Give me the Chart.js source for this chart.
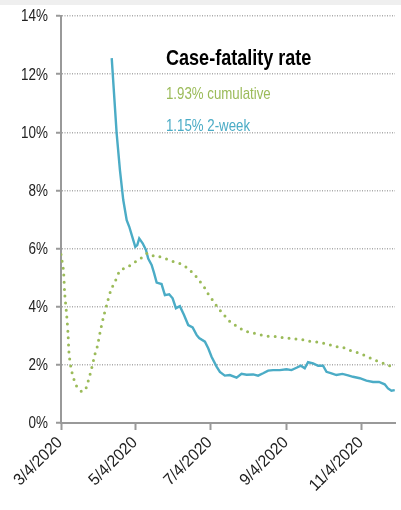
<!DOCTYPE html>
<html lang="en">
<head>
    <meta charset="UTF-8">
    <title>Case-fatality rate</title>
    <script src="https://cdn.jsdelivr.net/npm/chart.js"></script>
    <style>
        body { margin: 0; background: #fff; }
        #bar { height: 5px; background: #efefef; }
    </style>
</head>
<body>
    <div id="bar"></div>
    <canvas id="chart_cfr" width="401" height="505"></canvas>

    <script>
        // days since 3/4/2020 -> x, rate in percent -> y
        const tickDays = [0, 61, 122, 184, 245];
        const tickLabels = ['3/4/2020', '5/4/2020', '7/4/2020', '9/4/2020', '11/4/2020'];

        const cumDays = [0, 2, 3, 4.6, 5.7, 6.5, 8, 9.5, 13, 17, 20, 22, 25, 27.7, 29.5, 31.7, 34.4, 37.2, 40.7, 44, 48, 52, 57, 62.7, 67, 70.5, 75.7, 80, 84.6, 89.5, 94.6, 99.5, 103.6, 107.6, 111.7, 117, 120.7, 124, 127.2, 130.8, 134.3, 138, 142.4, 146.7, 151.6, 156.5, 161, 166, 171, 176, 181, 186, 191, 196, 200.4, 205.3, 210.2, 215.4, 220.3, 225, 230, 234.6, 239.5, 244.3, 248.7, 253.3, 258.2, 262.8, 267.7, 271];
        const cumRate = [5.8, 5.24, 4.47, 3.72, 3.09, 2.42, 1.93, 1.65, 1.24, 1.08, 1.17, 1.42, 1.89, 2.37, 2.62, 3.09, 3.61, 4.06, 4.58, 4.86, 5.24, 5.33, 5.44, 5.61, 5.72, 5.84, 5.74, 5.72, 5.66, 5.58, 5.51, 5.44, 5.3, 5.15, 4.95, 4.65, 4.38, 4.2, 4.0, 3.81, 3.64, 3.47, 3.35, 3.24, 3.14, 3.1, 3.05, 3.0, 2.98, 2.97, 2.93, 2.91, 2.89, 2.87, 2.82, 2.8, 2.78, 2.73, 2.67, 2.62, 2.59, 2.51, 2.45, 2.38, 2.3, 2.21, 2.12, 2.05, 1.97, 1.93];

        const twoWeekDays = [41.3, 45.3, 48, 50.7, 53.5, 55.6, 58, 60.5, 62.1, 63.7, 66.5, 69.2, 71, 73.8, 75.7, 77.9, 81.9, 84.6, 88.1, 90.9, 93.6, 96.8, 100.1, 103.6, 107.2, 110.4, 112.5, 117.2, 119.9, 122.6, 126.7, 129.4, 133.4, 137.5, 143, 147, 151.1, 156.5, 160.5, 164.6, 168.7, 172.7, 178.2, 183.6, 187.7, 191.8, 195.3, 198.5, 201.2, 205.3, 209.4, 213.4, 216.2, 220.3, 224.3, 229.2, 233.8, 237.8, 243.3, 248.7, 254.1, 259, 263.6, 266.3, 269.1, 271.8];
        const twoWeekRate = [12.55, 9.97, 8.7, 7.67, 6.98, 6.75, 6.41, 6.06, 6.12, 6.35, 6.18, 5.95, 5.66, 5.44, 5.17, 4.83, 4.78, 4.4, 4.43, 4.29, 3.95, 4.02, 3.72, 3.37, 3.29, 3.03, 2.92, 2.8, 2.57, 2.28, 1.94, 1.76, 1.63, 1.65, 1.56, 1.69, 1.66, 1.67, 1.63, 1.71, 1.8, 1.82, 1.82, 1.85, 1.82, 1.9, 1.97, 1.88, 2.09, 2.05, 1.97, 1.97, 1.76, 1.71, 1.65, 1.69, 1.64, 1.59, 1.54, 1.46, 1.41, 1.41, 1.33, 1.19, 1.11, 1.13];

        const green = '#9bbb59';
        const blue = '#4bacc6';
        const font = '"Liberation Sans", Arial, sans-serif';

        const toPoints = (xs, ys) => xs.map((x, i) => ({ x: x, y: ys[i] }));

        // squeezed text, to look like the condensed face of the original
        function narrowText(ctx, text, x, y, squeeze, angle) {
            ctx.save();
            ctx.translate(x, y);
            if (angle) ctx.rotate(angle);
            ctx.scale(squeeze, 1);
            ctx.fillText(text, 0, 0);
            ctx.restore();
        }

        const labelPlugin = {
            id: 'labels',
            afterDraw(chart) {
                const ctx = chart.ctx;
                const xs = chart.scales.x, ys = chart.scales.y;
                ctx.save();
                ctx.fillStyle = '#222';

                // y tick labels
                ctx.font = '16px ' + font;
                ctx.textAlign = 'right';
                ctx.textBaseline = 'middle';
                ys.ticks.forEach(t => {
                    narrowText(ctx, t.value + '%', ys.right - 13, ys.getPixelForValue(t.value) + 1, 0.84);
                });

                // x tick labels, rotated 45 degrees
                ctx.font = '16.5px ' + font;
                xs.ticks.forEach(t => {
                    const label = tickLabels[tickDays.indexOf(t.value)];
                    narrowText(ctx, label, xs.getPixelForValue(t.value) - 1, xs.top + 17, 0.95, -Math.PI / 4);
                });

                // title and series labels
                ctx.textAlign = 'left';
                ctx.textBaseline = 'alphabetic';
                ctx.fillStyle = '#000';
                ctx.font = 'bold 22px ' + font;
                narrowText(ctx, 'Case-fatality rate', 166, 60, 0.82);
                ctx.font = '17px ' + font;
                ctx.fillStyle = green;
                narrowText(ctx, '1.93% cumulative', 166, 94, 0.78);
                ctx.fillStyle = blue;
                narrowText(ctx, '1.15% 2-week', 166, 126, 0.78);
                ctx.restore();
            }
        };

        new Chart(document.getElementById('chart_cfr').getContext('2d'), {
            type: 'line',
            data: {
                datasets: [
                    {
                        label: 'cumulative',
                        data: toPoints(cumDays, cumRate),
                        borderColor: green,
                        borderWidth: 3,
                        borderDash: [0, 7],
                        borderCapStyle: 'round',
                        pointRadius: 0,
                        tension: 0.3,
                        fill: false
                    },
                    {
                        label: '2-week',
                        data: toPoints(twoWeekDays, twoWeekRate),
                        borderColor: blue,
                        borderWidth: 2.4,
                        pointRadius: 0,
                        tension: 0,
                        fill: false
                    }
                ]
            },
            options: {
                responsive: false,
                animation: false,
                devicePixelRatio: 1,
                layout: { padding: { top: 11, right: 6, left: 0, bottom: 0 } },
                plugins: { legend: { display: false }, tooltip: { enabled: false } },
                scales: {
                    x: {
                        type: 'linear',
                        min: 0,
                        max: 272,
                        afterBuildTicks: s => { s.ticks = tickDays.map(v => ({ value: v })); },
                        afterFit: s => { s.height = 87; },
                        ticks: { display: false },
                        grid: { drawOnChartArea: false, tickLength: 7, tickColor: '#999', tickWidth: 2 },
                        border: { color: '#999', width: 2 }
                    },
                    y: {
                        min: 0,
                        max: 14,
                        afterFit: s => { s.width = 61; },
                        ticks: { display: false, stepSize: 2 },
                        grid: { color: '#aaa', lineWidth: 1.5, tickLength: 5, tickColor: '#999', tickWidth: 2, tickBorderDash: [] },
                        border: { color: '#999', width: 2, dash: [1, 1.5] }
                    }
                }
            },
            plugins: [labelPlugin]
        });
    </script>
</body>
</html>
